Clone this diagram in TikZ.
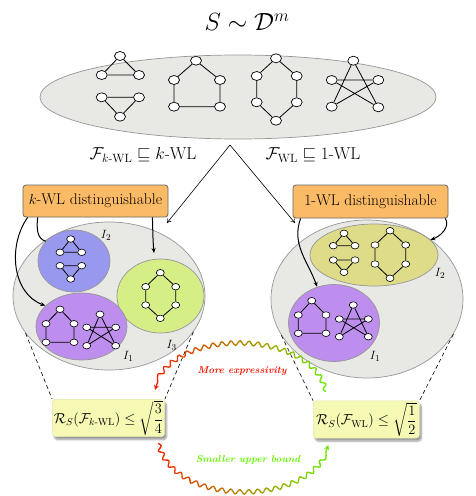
\documentclass[tikz,border=0pt]{standalone}
\usepackage{amsmath,amssymb}
\usepackage{tikz}
\usetikzlibrary{shapes.geometric,arrows.meta,decorations.pathmorphing,shadows.blur}
\definecolor{setgray}{RGB}{232,233,229}
\definecolor{rimgray}{RGB}{150,150,150}
\definecolor{iblue}{RGB}{152,152,238}
\definecolor{ipurple}{RGB}{190,142,238}
\definecolor{igreen}{RGB}{214,238,134}
\definecolor{ikhaki}{RGB}{222,220,136}
\definecolor{boxorange}{RGB}{251,187,102}
\definecolor{boundyellow}{RGB}{245,249,180}
\definecolor{wavered}{RGB}{255,20,0}
\definecolor{wavegreen}{RGB}{100,245,0}
\newcommand{\edgewidth}{0.8pt}
\newcommand{\setrim}{0.7pt}
\tikzset{
  vtx/.style={ellipse, draw, fill=white, inner sep=0pt, minimum width=11pt, minimum height=9pt, line width=0.7pt},
  svtx/.style={vtx, minimum width=8pt, minimum height=6.5pt, line width=0.6pt},
  edge/.style={line width=\edgewidth},
  gset/.style={ellipse, draw=rimgray, fill=setgray, inner sep=0pt, line width=\setrim},
  iset/.style={ellipse, draw=rimgray, inner sep=0pt, line width=\setrim},
  wlbox/.style={draw=gray!80!black, fill=boxorange, rounded corners=3pt, inner sep=2pt, line width=0.8pt, font=\fontsize{15.5}{17}\selectfont},
  boundbox/.style={draw=boundyellow!85!gray, fill=boundyellow, rounded corners=3pt, inner sep=1.5pt,
    blur shadow={shadow xshift=2pt, shadow yshift=-3pt, shadow blur steps=6}, font=\fontsize{14}{17}\selectfont},
  setlab/.style={font=\fontsize{13}{15}\selectfont},
  pick/.style={-{Stealth[length=5pt,width=4pt]}, line width=1pt},
  wave/.style={line width=1.3pt, decorate, decoration={snake, amplitude=2.2pt, segment length=9pt, post length=5pt}},
  ptr/.style={-{To[length=4pt,width=5pt]}, line width=0.6pt}
}

\begin{document}
\begin{tikzpicture}[x=1pt,y=-1pt]
\useasboundingbox (0,0) rectangle (475,496);
\node (title) at (247,22) {\fontsize{27}{30}\selectfont $S\sim\mathcal{D}^m$};
\node[gset, minimum width=396pt, minimum height=84pt] (sample) at (238,97) {};
%sample graphs
\node[vtx] (a1) at (120,56) {};
\node[vtx] (a2) at (101.7,75) {};
\node[vtx] (a3) at (139,75) {};
\node[vtx] (a4) at (101.7,97.3) {};
\node[vtx] (a5) at (139,97.3) {};
\node[vtx] (a6) at (120,116.7) {};
\node[vtx] (b1) at (196,60.7) {};
\node[vtx] (b2) at (174,80) {};
\node[vtx] (b3) at (220,80) {};
\node[vtx] (b4) at (174,106.7) {};
\node[vtx] (b5) at (220,106.7) {};
\node[vtx] (c1) at (276,58.3) {};
\node[vtx] (c2) at (256.7,76) {};
\node[vtx] (c3) at (296.7,76) {};
\node[vtx] (c4) at (256.7,102.3) {};
\node[vtx] (c5) at (296.7,102.3) {};
\node[vtx] (c6) at (276,120.7) {};
\node[vtx] (d1) at (353.3,60.7) {};
\node[vtx] (d2) at (331.7,80) {};
\node[vtx] (d3) at (378.3,80) {};
\node[vtx] (d4) at (331.7,106.7) {};
\node[vtx] (d5) at (378.3,107.3) {};
\draw[edge] (a1) -- (a2) -- (a3) -- (a1);
\draw[edge] (a4) -- (a5) -- (a6) -- (a4);
\draw[edge] (b1) -- (b2) -- (b4) -- (b5) -- (b3) -- (b1);
\draw[edge] (c1) -- (c2) -- (c4) -- (c6) -- (c5) -- (c3) -- (c1);
\draw[edge] (d1) -- (d4) -- (d3) -- (d2) -- (d5) -- (d1);
%split into the two hypothesis classes
\coordinate (fork) at (230,145);
\coordinate (kend) at (167,223);
\coordinate (wend) at (295,223);
\draw[ptr] (fork) -- (kend);
\draw[ptr] (fork) -- (wend);
\node (kcond) at (143,155) {\fontsize{17}{20}\selectfont $\mathcal{F}_{k\text{-}\mathrm{WL}}\sqsubseteq k\text{-}\mathrm{WL}$};
\node (wcond) at (313,155) {\fontsize{17}{20}\selectfont $\mathcal{F}_{\mathrm{WL}}\sqsubseteq 1\text{-}\mathrm{WL}$};
\node[wlbox, minimum width=145pt, minimum height=32pt] (kbox) at (95.5,201) {$k$-WL distinguishable};
\node[wlbox, minimum width=155pt, minimum height=33pt] (wbox) at (370.5,201.5) {1-WL distinguishable};
%k-WL partition
\node[gset, minimum width=192pt, minimum height=148pt] (kset) at (109,296) {};
\node[iset, fill=iblue, minimum width=72pt, minimum height=62pt] (kI2) at (74,261) {};
\node[iset, fill=igreen, minimum width=87pt, minimum height=74pt] (kI3) at (160.5,296) {};
\node[iset, fill=ipurple, minimum width=91pt, minimum height=67pt] (kI1) at (81.5,326.5) {};
\node[svtx] (ka1) at (70.7,239) {};
\node[svtx] (ka2) at (60,252.3) {};
\node[svtx] (ka3) at (81.7,252.3) {};
\node[svtx] (ka4) at (60,265.7) {};
\node[svtx] (ka5) at (81.7,265.7) {};
\node[svtx] (ka6) at (70.7,279) {};
\node[svtx] (kc1) at (160.3,272.7) {};
\node[svtx] (kc2) at (145.7,286.7) {};
\node[svtx] (kc3) at (175.7,286.7) {};
\node[svtx] (kc4) at (145.7,305) {};
\node[svtx] (kc5) at (175.7,305) {};
\node[svtx] (kc6) at (160.3,318.3) {};
\node[svtx] (kb1) at (60,309.3) {};
\node[svtx] (kb2) at (46,323.7) {};
\node[svtx] (kb3) at (74,323.7) {};
\node[svtx] (kb4) at (46,342.3) {};
\node[svtx] (kb5) at (74,342.3) {};
\node[svtx] (kd1) at (100,314.3) {};
\node[svtx] (kd2) at (86.7,327.3) {};
\node[svtx] (kd3) at (115.7,327.3) {};
\node[svtx] (kd4) at (86.7,345.7) {};
\node[svtx] (kd5) at (115.7,345.7) {};
\draw[edge] (ka1) -- (ka2) -- (ka3) -- (ka1);
\draw[edge] (ka4) -- (ka5) -- (ka6) -- (ka4);
\draw[edge] (kc1) -- (kc2) -- (kc4) -- (kc6) -- (kc5) -- (kc3) -- (kc1);
\draw[edge] (kb1) -- (kb2) -- (kb4) -- (kb5) -- (kb3) -- (kb1);
\draw[edge] (kd1) -- (kd4) -- (kd3) -- (kd2) -- (kd5) -- (kd1);
\node[setlab] (kI2lab) at (106,235) {$I_2$};
\node[setlab] (kI3lab) at (171.7,345) {$I_3$};
\node[setlab] (kI1lab) at (128.3,356.7) {$I_1$};
%1-WL partition
\node[gset, minimum width=192pt, minimum height=158pt] (wset) at (367,299) {};
\node[iset, fill=ikhaki, minimum width=128pt, minimum height=62pt] (wI2) at (374,255) {};
\node[iset, fill=ipurple, minimum width=91pt, minimum height=77pt] (wI1) at (334,323) {};
\node[svtx] (wa1) at (344,233.3) {};
\node[svtx] (wa2) at (333.3,245.7) {};
\node[svtx] (wa3) at (355,245.7) {};
\node[svtx] (wa4) at (333.3,260) {};
\node[svtx] (wa5) at (355,260) {};
\node[svtx] (wa6) at (344,272.3) {};
\node[svtx] (wc1) at (390,230.7) {};
\node[svtx] (wc2) at (375,245) {};
\node[svtx] (wc3) at (405.7,245) {};
\node[svtx] (wc4) at (375,264) {};
\node[svtx] (wc5) at (405.7,264) {};
\node[svtx] (wc6) at (390,278.3) {};
\node[svtx] (wb1) at (311.7,300.7) {};
\node[svtx] (wb2) at (298.3,315) {};
\node[svtx] (wb3) at (326,315) {};
\node[svtx] (wb4) at (298.3,333.3) {};
\node[svtx] (wb5) at (326,333.3) {};
\node[svtx] (wd1) at (353.3,305) {};
\node[svtx] (wd2) at (339.3,319) {};
\node[svtx] (wd3) at (368.3,319) {};
\node[svtx] (wd4) at (339.3,336.7) {};
\node[svtx] (wd5) at (368.3,336.7) {};
\draw[edge] (wa1) -- (wa2) -- (wa3) -- (wa1);
\draw[edge] (wa4) -- (wa5) -- (wa6) -- (wa4);
\draw[edge] (wc1) -- (wc2) -- (wc4) -- (wc6) -- (wc5) -- (wc3) -- (wc1);
\draw[edge] (wb1) -- (wb2) -- (wb4) -- (wb5) -- (wb3) -- (wb1);
\draw[edge] (wd1) -- (wd4) -- (wd3) -- (wd2) -- (wd5) -- (wd1);
\node[setlab] (wI2lab) at (440,273.3) {$I_2$};
\node[setlab] (wI1lab) at (375,356.7) {$I_1$};
%box pointers
\draw[pick] ([xshift=5pt]kbox.south west) to[out=235, in=160] (kI1.150);
\draw[line width=1pt] ([xshift=15pt]kbox.south west) to[out=265, in=165] (kI2.145);
\draw[pick] ([xshift=-16pt]kbox.south east) to[out=272, in=95] ([yshift=6pt]kI3.100);
\draw[pick] ([xshift=8pt]wbox.south west) to[out=250, in=110] (wI1.115);
\draw[pick] ([xshift=-3pt]wbox.south east) to[out=-60, in=20] (wI2.15);
%bounds
\node[boundbox, minimum width=107pt, minimum height=36pt] (kbound) at (108.5,418) {$\mathcal{R}_S(\mathcal{F}_{k\text{-}\mathrm{WL}})\leq\sqrt{\dfrac{3}{4}}$};
\node[boundbox, minimum width=106pt, minimum height=36pt] (wbound) at (366.3,419.5) {$\mathcal{R}_S(\mathcal{F}_{\mathrm{WL}})\leq\sqrt{\dfrac{1}{2}}$};
\draw[dashed, dash pattern=on 4pt off 3pt, line width=0.6pt] (kset.204) -- (kbound.north west);
\draw[dashed, dash pattern=on 4pt off 3pt, line width=0.6pt] (kset.337) -- (kbound.north east);
\draw[dashed, dash pattern=on 4pt off 3pt, line width=0.6pt] (wset.203) -- (wbound.north west);
\draw[dashed, dash pattern=on 4pt off 3pt, line width=0.6pt] (wset.338) -- (wbound.north east);
%wavy arrows, red on the left, green on the right
\coordinate (mstart) at (326,391.7);
\coordinate (mend) at (155,390);
\coordinate (sstart) at (158.3,443.3);
\coordinate (send) at (328.3,445);
\foreach \i in {0,...,19}{
  \pgfmathsetmacro{\p}{100-5.26*\i}
  \begin{scope}
    \clip (140+10*\i,330) rectangle (151+10*\i,496);
    \draw[wave, -{Stealth[length=5pt,width=5pt]}, wavered!\p!wavegreen] (mstart) .. controls (310,330) and (170,330) .. (mend);
    \draw[wave, -{Stealth[length=5pt,width=5pt]}, wavered!\p!wavegreen] (sstart) .. controls (175,505) and (310,505) .. (send);
  \end{scope}
}
\node[text=wavered, font=\fontsize{10}{12}\selectfont\bfseries\itshape] (more) at (242,371) {More expressivity};
\node[text=wavegreen, font=\fontsize{10}{12}\selectfont\bfseries\itshape] (smaller) at (248,460) {Smaller upper bound};
\end{tikzpicture}
\end{document}
